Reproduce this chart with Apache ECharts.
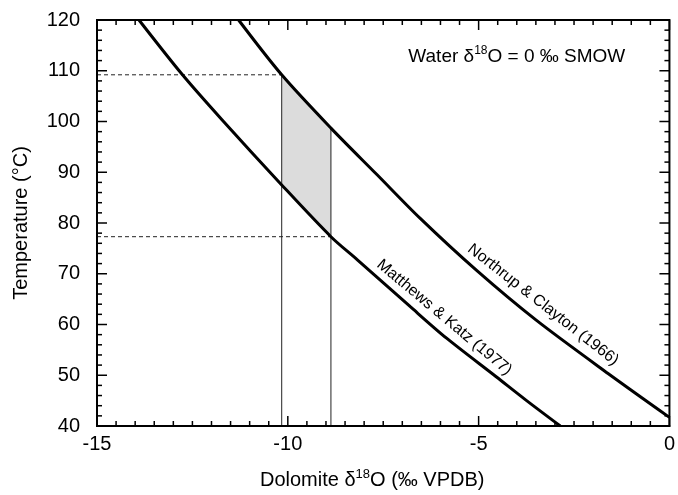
<!DOCTYPE html>
<html>
<head>
<meta charset="utf-8">
<script src="https://cdn.jsdelivr.net/npm/echarts@6/dist/echarts.min.js"></script>
<style>
  html, body { margin: 0; padding: 0; background: #fff; }
  #chart { width: 678px; height: 495px; }
</style>
</head>
<body>
<div id="chart"></div>
<script>
// curves: dolomite d18O (VPDB) vs temperature (C)
const matthewsX = [-13.9, -12.76, -11.72, -10.16, -8.87, -8.17, -6.79, -5.84, -4.54, -3.76, -2.86]
const matthewsT = [120, 109.2, 100.3, 87.5, 77.3, 72.7, 63.5, 57.3, 49.7, 45.1, 40]
const northrupX = [-11.29, -10.16, -8.87, -7.66, -6.53, -5.06, -3.5, -1.6, 0]
const northrupT = [120, 109.2, 98.7, 89.5, 80.9, 70.7, 60.9, 50.3, 41.7]

// the bracketed range (shaded)
const rangeX = [-10.16, -8.87]
const rangeTop = [109.2, 98.7]     // on Northrup & Clayton
const rangeBottom = [87.5, 77.3]   // on Matthews & Katz

// axes
const xMin = -15, xMax = 0, xStep = 5, xMinor = 0.5
const yMin = 40, yMax = 120, yStep = 10, yMinor = 2

const FONT = '"Liberation Sans", Arial, Helvetica, sans-serif'

function pairs(xs, ys) {
  return xs.map((x, i) => [x, ys[i]])
}

const supRich = {
  t: { fontSize: 20, fontFamily: FONT, color: '#000', lineHeight: 24 },
  s: { fontSize: 13, fontFamily: FONT, color: '#000', lineHeight: 13, verticalAlign: 'top' }
}

// annotations, placed in data coordinates
const notes = [
  { at: [-5.9, 61.4], rot: -40, size: 16, text: 'Matthews & Katz (1977)' },
  { at: [-3.31, 63.9], rot: -38, size: 16, text: 'Northrup & Clayton (1966)' },
  { at: [-4.0, 112.7], rot: 0, size: 19, text: '{t|Water δ}{s|18}{t|O = 0 ‰ SMOW}' }
]

function seg(p, q, width, dashed, color) {
  return {
    type: 'line',
    shape: { x1: p[0], y1: p[1], x2: q[0], y2: q[1] },
    style: { stroke: color || '#222', lineWidth: width, lineDash: dashed ? [4, 3] : null }
  }
}

// inward ticks on all four sides, plus the closed frame
function frameAndTicks(api) {
  const out = []
  const bl = api.coord([xMin, yMin])
  const tr = api.coord([xMax, yMax])
  const nx = Math.round((xMax - xMin) / xMinor)
  for (let i = 0; i <= nx; i++) {
    const x = api.coord([xMin + i * xMinor, yMin])[0]
    const len = i % Math.round(xStep / xMinor) === 0 ? 10 : 5
    out.push(seg([x, bl[1]], [x, bl[1] - len], 1.5, false, '#000'))
    out.push(seg([x, tr[1]], [x, tr[1] + len], 1.5, false, '#000'))
  }
  const ny = Math.round((yMax - yMin) / yMinor)
  for (let i = 0; i <= ny; i++) {
    const y = api.coord([xMin, yMin + i * yMinor])[1]
    const len = i % Math.round(yStep / yMinor) === 0 ? 10 : 5
    out.push(seg([bl[0], y], [bl[0] + len, y], 1.5, false, '#000'))
    out.push(seg([tr[0], y], [tr[0] - len, y], 1.5, false, '#000'))
  }
  out.push({
    type: 'rect',
    shape: { x: bl[0], y: tr[1], width: tr[0] - bl[0], height: bl[1] - tr[1] },
    style: { fill: null, stroke: '#000', lineWidth: 2 }
  })
  return out
}

const chart = echarts.init(document.getElementById('chart'))
chart.setOption({
  animation: false,
  grid: { left: 97, right: 3, top: 20, bottom: 69 },
  xAxis: {
    type: 'value', min: xMin, max: xMax, interval: xStep,
    axisLine: { show: true, onZero: false, lineStyle: { color: '#000', width: 2 } },
    axisTick: { show: false },
    minorTick: { show: false },
    splitLine: { show: false },
    axisLabel: { margin: 8, color: '#000', fontSize: 20, fontFamily: FONT },
    name: '{t|Dolomite δ}{s|18}{t|O (‰ VPDB)}',
    nameLocation: 'middle',
    nameGap: 42,
    nameTextStyle: { rich: supRich, padding: [0, 22, 0, 0] }
  },
  yAxis: {
    type: 'value', min: yMin, max: yMax, interval: yStep,
    axisLine: { show: true, onZero: false, lineStyle: { color: '#000', width: 2 } },
    axisTick: { show: false },
    minorTick: { show: false },
    splitLine: { show: false },
    axisLabel: { margin: 17, color: '#000', fontSize: 20, fontFamily: FONT },
    name: 'Temperature (°C)',
    nameLocation: 'middle',
    nameGap: 66,
    nameTextStyle: { fontSize: 20, fontFamily: FONT, color: '#000' }
  },
  series: [
    {
      // shaded band, bracket lines, frame ticks and text notes
      type: 'custom', silent: true, z: 1, data: [0],
      renderItem(params, api) {
        const band = [
          api.coord([rangeX[0], rangeTop[0]]),
          api.coord([rangeX[1], rangeTop[1]]),
          api.coord([rangeX[1], rangeBottom[1]]),
          api.coord([rangeX[0], rangeBottom[0]])
        ]
        const children = [
          { type: 'polygon', shape: { points: band }, style: { fill: '#dcdcdc' } },
          seg(api.coord([rangeX[0], yMin]), api.coord([rangeX[0], rangeTop[0]]), 1, false),
          seg(api.coord([rangeX[1], yMin]), api.coord([rangeX[1], rangeTop[1]]), 1, false),
          seg(api.coord([xMin, rangeTop[0]]), api.coord([rangeX[0], rangeTop[0]]), 1, true),
          seg(api.coord([xMin, rangeBottom[1]]), api.coord([rangeX[1], rangeBottom[1]]), 1, true)
        ].concat(frameAndTicks(api))
        notes.forEach(n => {
          const p = api.coord(n.at)
          children.push({
            type: 'text',
            x: p[0], y: p[1],
            rotation: n.rot * Math.PI / 180,
            z2: 10,
            style: {
              text: n.text,
              fontSize: n.size,
              fontFamily: FONT,
              fill: '#000',
              align: 'center',
              verticalAlign: 'middle',
              rich: {
                t: { fontSize: n.size, fontFamily: FONT, fill: '#000', lineHeight: 24 },
                s: { fontSize: 12, fontFamily: FONT, fill: '#000', lineHeight: 12, verticalAlign: 'top' }
              }
            }
          })
        })
        return { type: 'group', children }
      }
    },
    {
      name: 'Matthews & Katz (1977)',
      type: 'line', silent: true, z: 3, symbol: 'none', smooth: 0.3,
      lineStyle: { color: '#000', width: 3 },
      data: pairs(matthewsX, matthewsT)
    },
    {
      name: 'Northrup & Clayton (1966)',
      type: 'line', silent: true, z: 3, symbol: 'none', smooth: 0.3,
      lineStyle: { color: '#000', width: 3 },
      data: pairs(northrupX, northrupT)
    }
  ]
})
</script>
</body>
</html>
